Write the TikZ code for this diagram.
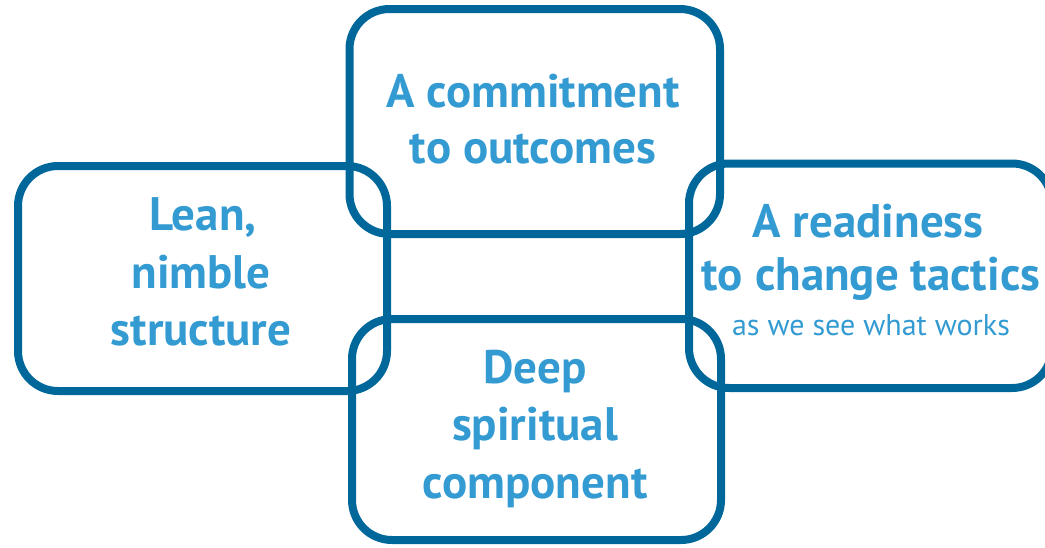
\documentclass[tikz,border=0pt]{standalone}
\usepackage{fontspec}
\setmainfont{PT Sans}
\definecolor{frame}{RGB}{0,103,155}
\definecolor{txt}{RGB}{51,155,210}
\begin{document}
\begin{tikzpicture}[x=1pt,y=-1pt,
  box/.style={draw=frame,line width=8pt,rounded corners=40pt,rectangle,inner sep=0pt,outer sep=0pt},
  big/.style={text=txt,anchor=base,inner sep=0pt,font=\fontsize{47}{56}\selectfont\bfseries},
  small/.style={text=txt,anchor=base,inner sep=0pt,font=\fontsize{30}{36}\selectfont}]
\useasboundingbox (0,0) rectangle (1045,547);
\node[box,minimum width=370.5pt,minimum height=225pt] (top) at (534.75,121.5) {};
\node[box,minimum width=369pt,minimum height=225pt] (left) at (202.5,278.5) {};
\node[box,minimum width=363pt,minimum height=224.5pt] (right) at (870.5,275.75) {};
\node[box,minimum width=369pt,minimum height=221pt] (bottom) at (536.5,429.5) {};
\node[big] (ta) at (533,107) {A commitment};
\node[big] (tb) at (533,163) {to outcomes};
\node[big] (la) at (203,230) {Lean,};
\node[big] (lb) at (201,288) {nimble};
\node[big] (lc) at (201,345) {structure};
\node[big] (ra) at (868,237) {A readiness};
\node[big] (rb) at (871,290) {to change tactics};
\node[small] (rc) at (871,335) {as we see what works};
\node[big] (ba) at (535,383) {Deep};
\node[big] (bb) at (535,440) {spiritual};
\node[big] (bc) at (535,498) {component};
\end{tikzpicture}
\end{document}
